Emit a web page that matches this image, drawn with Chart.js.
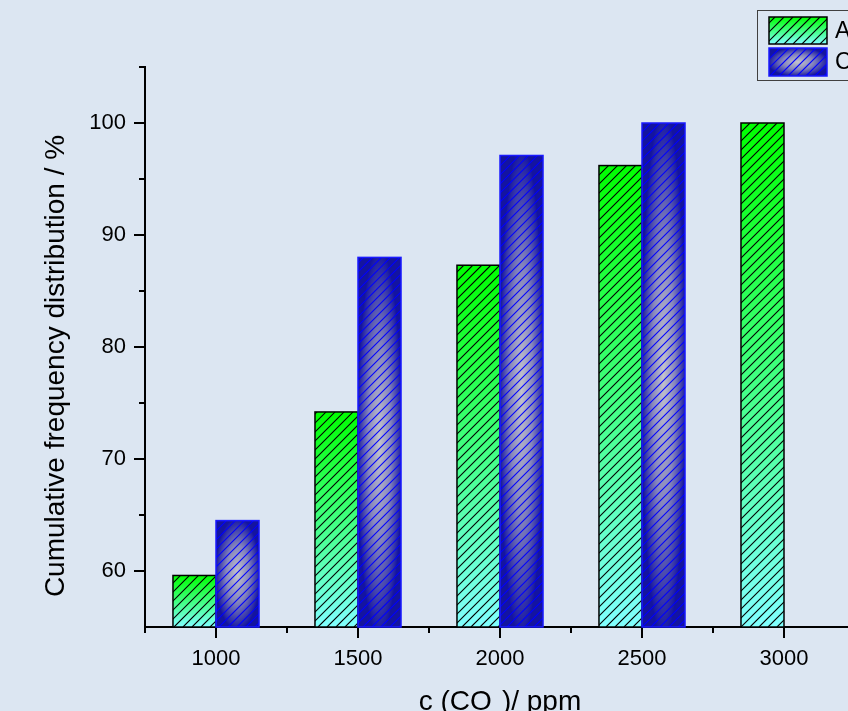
<!DOCTYPE html>
<html>
<head>
<meta charset="utf-8">
<script src="https://cdn.jsdelivr.net/npm/chart.js@4.4.1/dist/chart.umd.min.js"></script>
<style>
  html, body { margin:0; padding:0; background:#dce6f2; overflow:hidden; }
  #wrap { width:880px; height:740px; }
</style>
</head>
<body>
<div id="wrap"><canvas id="c" width="880" height="740"></canvas></div>
<script>
// ---- data ----
const categories = ['1000', '1500', '2000', '2500', '3000'];
const seriesA = [59.6, 74.2, 87.3, 96.2, 100];
const seriesC = [64.5, 88.0, 97.1, 100, null];
const seriesNames = ['Apartments', 'Classrooms'];
const yTickValues = [60, 70, 80, 90, 100];
const yMinorValues = [65, 75, 85, 95, 105];
const yMin = 55, yMax = 105;
const yTitle = 'Cumulative frequency distribution / %';
const xTitleParts = ['c (CO', '2', ')/ ppm'];

// ---- styles ----
const FONT = '"Liberation Sans", Arial, sans-serif';
const styles = [
  { kind: 'green', base: '#40ff80', border: '#000000', hatch: '#000000' },
  { kind: 'blue',  base: '#6060b0', border: '#1a1aff', hatch: '#0000ff' }
];

function fillStyled(ctx, st, l, t, w, h) {
  ctx.save();
  ctx.beginPath();
  ctx.rect(l, t, w, h);
  ctx.clip();
  if (st.kind === 'green') {
    const g = ctx.createLinearGradient(0, t, 0, t + h);
    g.addColorStop(0, '#00ff00');
    g.addColorStop(1, '#80ffff');
    ctx.fillStyle = g;
    ctx.fillRect(l, t, w, h);
  } else {
    ctx.save();
    ctx.translate(l + w / 2, t + h / 2);
    ctx.scale(w / 2, h / 2);
    const g = ctx.createRadialGradient(0, 0, 0, 0, 0, 1.05);
    g.addColorStop(0, '#c4c4cc');
    g.addColorStop(0.5, '#8686bc');
    g.addColorStop(1, '#1414a0');
    ctx.fillStyle = g;
    ctx.fillRect(-1, -1, 2, 2);
    ctx.restore();
  }
  // hatch "/" lines
  const s = 9;
  ctx.strokeStyle = st.hatch;
  ctx.lineWidth = 1.1;
  ctx.beginPath();
  const b = t + h, r = l + w;
  for (let c = Math.ceil((l + t) / s) * s; c <= r + b; c += s) {
    ctx.moveTo(c - b, b);
    ctx.lineTo(c - t, t);
  }
  ctx.stroke();
  ctx.restore();
  ctx.save();
  ctx.strokeStyle = st.border;
  ctx.lineWidth = 1.5;
  ctx.strokeRect(l, t, w, h);
  ctx.restore();
}

const barOverlay = {
  id: 'barOverlay',
  afterDatasetsDraw(chart) {
    const ctx = chart.ctx;
    const area = chart.chartArea;
    chart.data.datasets.forEach((ds, di) => {
      const meta = chart.getDatasetMeta(di);
      meta.data.forEach((bar, i) => {
        if (ds.data[i] == null) return;
        const p = bar.getProps(['x', 'y', 'base', 'width'], true);
        const l = p.x - p.width / 2;
        const t = Math.max(area.top, Math.min(p.y, p.base));
        const bt = Math.min(area.bottom, Math.max(p.y, p.base));
        fillStyled(ctx, styles[di], l, t, p.width, bt - t);
      });
    });
  }
};

const decor = {
  id: 'decor',
  afterDraw(chart) {
    const ctx = chart.ctx;
    const xs = chart.scales.x, ys = chart.scales.y;
    const area = chart.chartArea;
    ctx.save();
    ctx.strokeStyle = '#000';
    ctx.lineWidth = 2;
    ctx.beginPath();
    yMinorValues.forEach(v => {
      const py = Math.round(ys.getPixelForValue(v));
      ctx.moveTo(area.left, py);
      ctx.lineTo(area.left - 6, py);
    });
    for (let i = -1; i < categories.length; i++) {
      const a = xs.getPixelForValue(i), bb = xs.getPixelForValue(i + 1);
      const px = Math.round((a + bb) / 2);
      ctx.moveTo(px, area.bottom);
      ctx.lineTo(px, area.bottom + 6);
    }
    ctx.stroke();
    ctx.restore();

    // y title
    ctx.save();
    ctx.fillStyle = '#000';
    ctx.font = '28px ' + FONT;
    ctx.textAlign = 'center';
    ctx.textBaseline = 'middle';
    ctx.translate(56, 366);
    ctx.rotate(-Math.PI / 2);
    ctx.fillText(yTitle, 0, 0);
    ctx.restore();

    // x title with subscript
    ctx.save();
    ctx.fillStyle = '#000';
    ctx.textBaseline = 'alphabetic';
    ctx.textAlign = 'left';
    const big = '28px ' + FONT, small = '18px ' + FONT;
    ctx.font = big;
    const w0 = ctx.measureText(xTitleParts[0]).width;
    const w2 = ctx.measureText(xTitleParts[2]).width;
    ctx.font = small;
    const w1 = ctx.measureText(xTitleParts[1]).width;
    const total = w0 + w1 + w2;
    const cx = (area.left + area.right) / 2;
    const x0 = cx - total / 2;
    const base = 710;
    ctx.font = big;
    ctx.fillText(xTitleParts[0], x0, base);
    ctx.font = small;
    ctx.fillText(xTitleParts[1], x0 + w0, base + 15);
    ctx.font = big;
    ctx.fillText(xTitleParts[2], x0 + w0 + w1, base);
    ctx.restore();

    // legend
    ctx.save();
    ctx.strokeStyle = '#404040';
    ctx.lineWidth = 1;
    ctx.strokeRect(757.5, 10.5, 200, 70);
    const rows = [{ y: 17, h: 27 }, { y: 48, h: 28 }];
    ctx.font = '23px ' + FONT;
    ctx.textBaseline = 'middle';
    chart.data.datasets.forEach((ds, di) => {
      const r = rows[di];
      fillStyled(ctx, styles[di], 769, r.y, 58, r.h);
      ctx.fillStyle = '#000';
      ctx.fillText(ds.label, 835, r.y + r.h / 2 + 1);
    });
    ctx.restore();
  }
};

const axisGrid = {
  display: true,
  drawOnChartArea: false,
  drawTicks: true,
  tickLength: 11,
  color: '#000',
  lineWidth: 2
};

new Chart(document.getElementById('c'), {
  type: 'bar',
  data: {
    labels: categories,
    datasets: [
      { label: seriesNames[0], data: seriesA, base: yMin, backgroundColor: styles[0].base, borderColor: styles[0].border, borderWidth: 1.5,
        categoryPercentage: 0.606, barPercentage: 1.0 },
      { label: seriesNames[1], data: seriesC, base: yMin, backgroundColor: styles[1].base, borderColor: styles[1].border, borderWidth: 1.5,
        categoryPercentage: 0.606, barPercentage: 1.0 }
    ]
  },
  options: {
    responsive: false,
    animation: false,
    layout: { padding: { left: 0, top: 67, right: 25, bottom: 0 } },
    plugins: { legend: { display: false }, tooltip: { enabled: false } },
    scales: {
      x: {
        type: 'category',
        offset: true,
        grid: Object.assign({}, axisGrid, { offset: false }),
        border: { display: true, color: '#000', width: 2 },
        ticks: { color: '#000', font: { family: FONT, size: 22 }, padding: 8, maxRotation: 0, autoSkip: false },
        afterFit(s) { s.height = 113; }
      },
      y: {
        type: 'linear',
        min: yMin,
        max: yMax,
        afterBuildTicks(s) { s.ticks = yTickValues.map(v => ({ value: v })); },
        grid: axisGrid,
        border: { display: true, color: '#000', width: 2 },
        ticks: { color: '#000', font: { family: FONT, size: 22 }, padding: 8 },
        afterFit(s) { s.width = 145; }
      }
    }
  },
  plugins: [barOverlay, decor]
});
</script>
</body>
</html>
